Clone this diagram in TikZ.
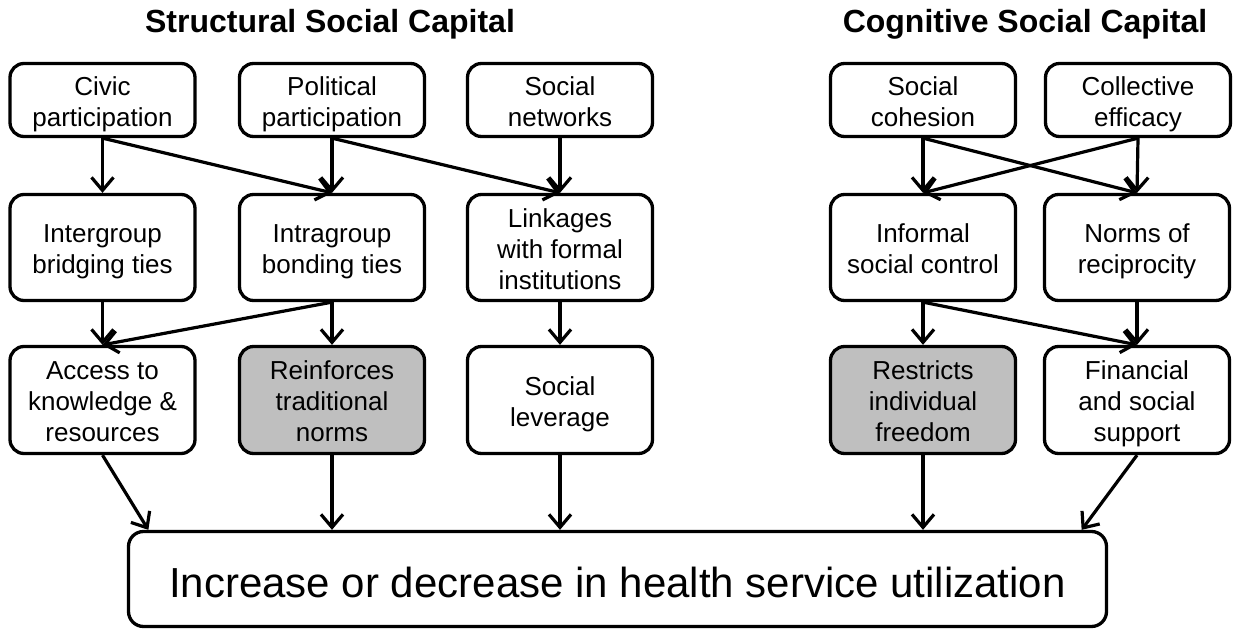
\documentclass[tikz,border=0pt]{standalone}
\usepackage{fontspec}
\setmainfont{Liberation Sans}
\usetikzlibrary{arrows.meta,calc}
\definecolor{shadegray}{RGB}{191,191,191}
% centred lines, nudged down a little so that they sit visually centred in the box
\newcommand\boxtext[1]{\raisebox{-4.5pt}[\height][\depth]{\begin{tabular}{@{}c@{}}#1\end{tabular}}}
\begin{document}
\begin{tikzpicture}[x=1pt,y=-1pt,
  box/.style={draw, line width=3.3pt, rounded corners=14pt, minimum width=185pt,
    inner sep=0pt, font=\fontsize{26}{31}\selectfont},
  rowone/.style={box, minimum height=73pt},
  rowtwo/.style={box, minimum height=106pt},
  rowthree/.style={box, minimum height=107pt},
  shaded/.style={fill=shadegray},
  link/.style={line width=3.2pt, -{Straight Barb[length=13pt,width=22pt]}},
  heading/.style={font=\fontsize{32}{38}\selectfont\bfseries, anchor=base}]
\useasboundingbox (0,0) rectangle (1233,631);

% headings
\node[heading] (hstruct) at (330,33) {Structural Social Capital};
\node[heading] (hcogn) at (1025,33) {Cognitive Social Capital};

% first row
\node[rowone] (civic) at (102.5,100) {\boxtext{Civic\\participation}};
\node[rowone] (polit) at (332,100) {\boxtext{Political\\participation}};
\node[rowone] (snet)  at (560,100) {\boxtext{Social\\networks}};
\node[rowone] (cohes) at (923,100) {\boxtext{Social\\cohesion}};
\node[rowone] (effic) at (1138,100) {\boxtext{Collective\\efficacy}};

% second row
\node[rowtwo] (inter) at (102.5,247.5) {\boxtext{Intergroup\\bridging ties}};
\node[rowtwo] (intra) at (332,247.5) {\boxtext{Intragroup\\bonding ties}};
\node[rowtwo] (links) at (560,247.5) {\boxtext{Linkages\\with formal\\institutions}};
\node[rowtwo] (infor) at (923,247.5) {\boxtext{Informal\\social control}};
\node[rowtwo] (norms) at (1137,247.5) {\boxtext{Norms of\\reciprocity}};

% third row
\node[rowthree] (access) at (102.5,400) {\boxtext{Access to\\knowledge \&\\resources}};
\node[rowthree, shaded] (reinf) at (332,400) {\boxtext{Reinforces\\traditional\\norms}};
\node[rowthree] (lever) at (560,400) {\boxtext{Social\\leverage}};
\node[rowthree, shaded] (restr) at (923,400) {\boxtext{Restricts\\individual\\freedom}};
\node[rowthree] (finsup) at (1137,400) {\boxtext{Financial\\and social\\support}};

% outcome
\node[draw, line width=3.3pt, rounded corners=15pt, inner sep=0pt,
  minimum width=978pt, minimum height=95pt, text height=43pt, text depth=7pt,
  font=\fontsize{42}{50}\selectfont] (out) at (617.5,579)
  {Increase or decrease in health service utilization};
\coordinate (inL) at ($(out.north west)+(21.5,0)$);
\coordinate (inR) at ($(out.north east)+(-26.5,0)$);

% structural links
\draw[link] (civic.south) -- (inter.north);
\draw[link] (civic.south) -- (intra.north);
\draw[link] (polit.south) -- (intra.north);
\draw[link] (polit.south) -- (links.north);
\draw[link] (snet.south) -- (links.north);
\draw[link] (inter.south) -- (access.north);
\draw[link] (intra.south) -- (access.north);
\draw[link] (intra.south) -- (reinf.north);
\draw[link] (links.south) -- (lever.north);

% cognitive links
\draw[link] (cohes.south) -- (infor.north);
\draw[link] (cohes.south) -- (norms.north);
\draw[link] (effic.south) -- (infor.north);
\draw[link] (effic.south) -- (norms.north);
\draw[link] (infor.south) -- (restr.north);
\draw[link] (infor.south) -- (finsup.north);
\draw[link] (norms.south) -- (finsup.north);

% links into the outcome
\draw[link] (access.south) -- (inL);
\draw[link] (reinf.south) -- (reinf.south |- out.north);
\draw[link] (lever.south) -- (lever.south |- out.north);
\draw[link] (restr.south) -- (restr.south |- out.north);
\draw[link] (finsup.south) -- (inR);
\end{tikzpicture}
\end{document}
